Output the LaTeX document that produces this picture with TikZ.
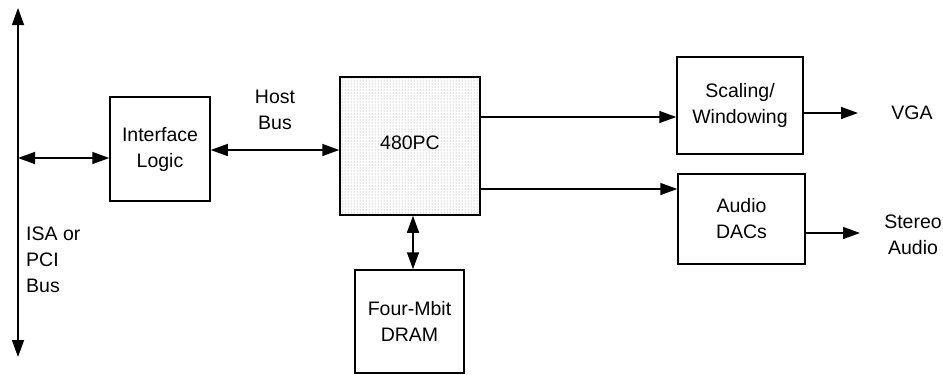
\documentclass[tikz,border=0pt]{standalone}
\usepackage{fontspec}
\setmainfont{Liberation Sans}
\usetikzlibrary{arrows.meta,patterns}
\begin{document}
\begin{tikzpicture}[x=1pt,y=-1pt,
  box/.style={draw,line width=1.5pt,inner sep=0pt,align=center,font=\fontsize{19.5}{26}\selectfont},
  lbl/.style={inner sep=0pt,align=center,font=\fontsize{19.5}{26}\selectfont},
  conn/.style={line width=1.5pt,-{Triangle[length=17pt,width=12pt]}},
  biconn/.style={line width=1.5pt,{Triangle[length=17pt,width=12pt]}-{Triangle[length=17pt,width=12pt]}}]
\useasboundingbox (0,0) rectangle (943,375);
% nodes
\node[box,minimum width=100pt,minimum height=104pt] (il) at (160,149) {Interface\\Logic};
\node[box,minimum width=140pt,minimum height=138pt,pattern=dots,pattern color=black!45] (pc) at (410,146) {};
\node[lbl] (pct) at (410,143) {480PC};
\node[box,minimum width=109pt,minimum height=103pt] (dram) at (409.5,321.5) {Four-Mbit\\DRAM};
\node[box,minimum width=126pt,minimum height=97pt] (scal) at (740,105.5) {Scaling/\\Windowing};
\node[box,minimum width=127pt,minimum height=90pt] (aud) at (741.5,219) {Audio\\DACs};
\node[lbl] (host) at (275,110) {Host\\Bus};
\node[lbl,align=left,anchor=west] (isa) at (26,260) {ISA or\\PCI\\Bus};
\node[lbl] (vga) at (912,113) {VGA};
\node[lbl] (st) at (913,235) {Stereo\\Audio};
% coordinates
\coordinate (bt) at (18,8);
\coordinate (bb) at (18,357);
\coordinate (bus) at (18,158);
\coordinate (vgae) at (858,113);
\coordinate (ste) at (860,233);
% connectors
\draw[biconn] (bt) -- (bb);
\draw[biconn] (bus) -- (il.west |- bus);
\draw[biconn] (il.east |- 0,150) -- (pc.west |- 0,150);
\draw[biconn] (pc.south -| 413,0) -- (dram.north -| 413,0);
\draw[conn] (pc.east |- 0,117) -- (scal.west |- 0,117);
\draw[conn] (pc.east |- 0,189) -- (aud.west |- 0,189);
\draw[conn] (scal.east |- vgae) -- (vgae);
\draw[conn] (aud.east |- ste) -- (ste);
\end{tikzpicture}
\end{document}
